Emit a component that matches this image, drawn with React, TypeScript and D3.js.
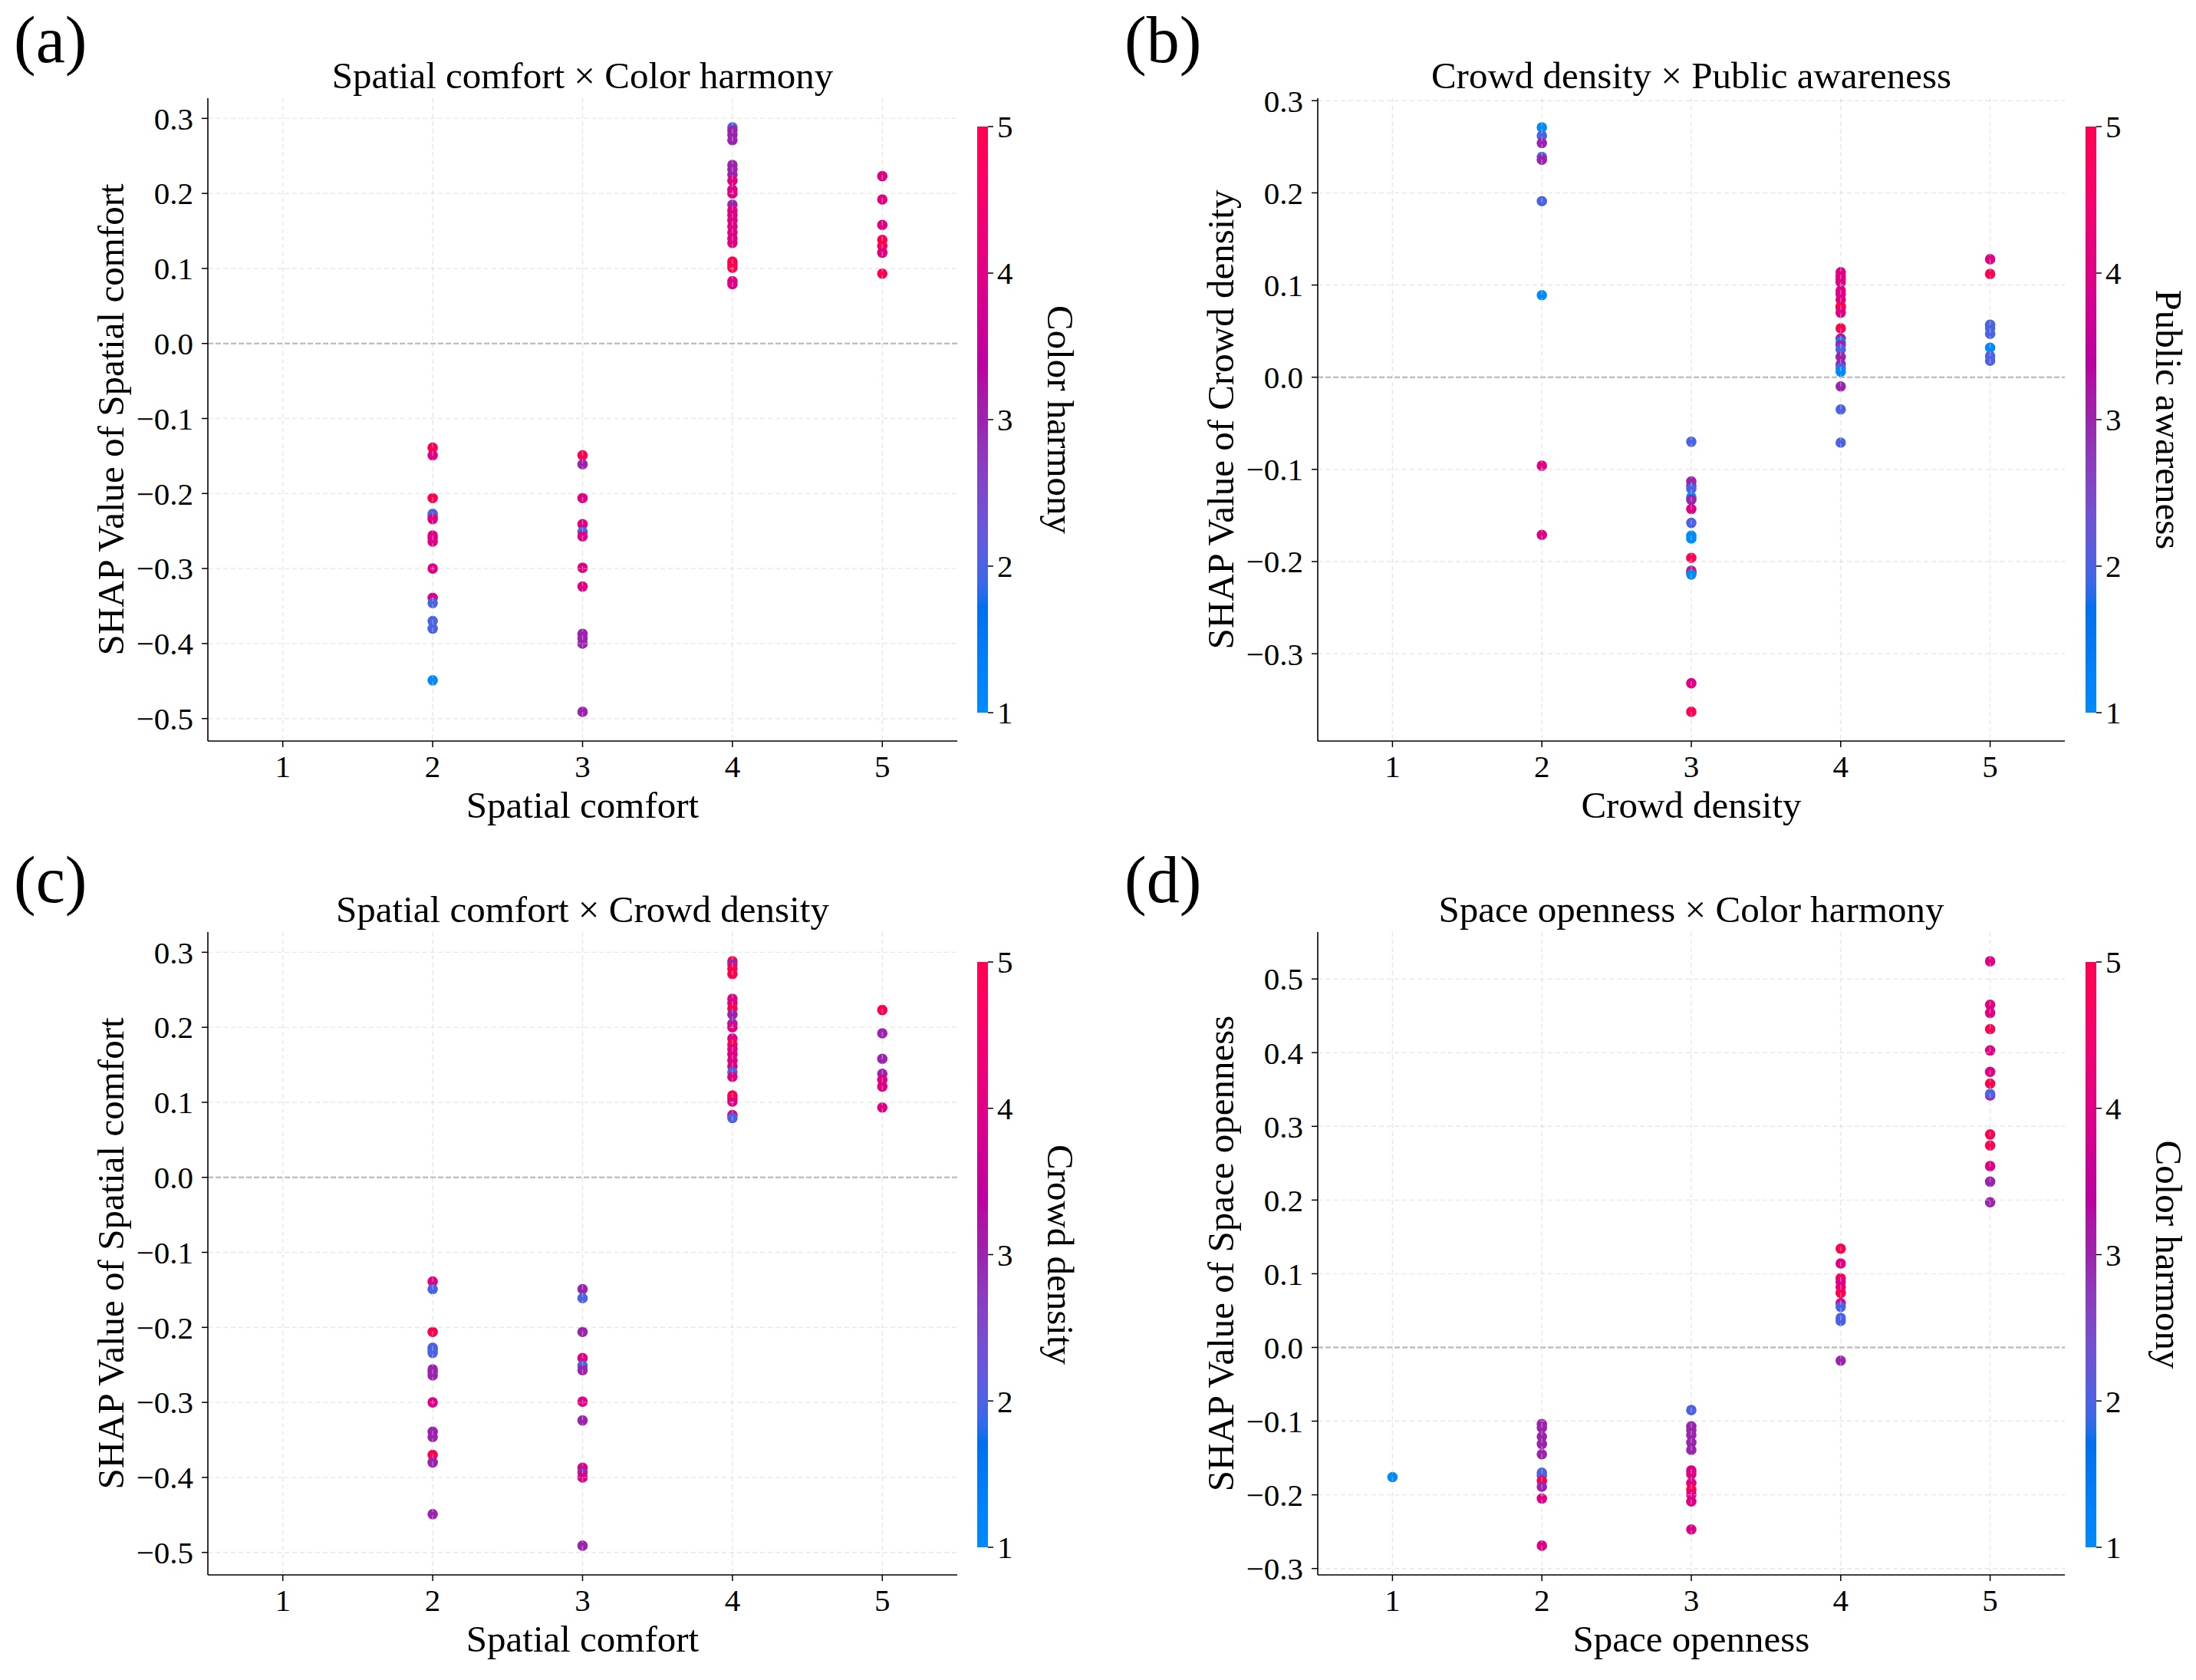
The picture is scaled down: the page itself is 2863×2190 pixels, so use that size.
import React from 'react';
import * as d3 from 'd3';

// ---------------- DATA ----------------
const xTickValues = [1, 2, 3, 4, 5];
const cbarTickValues = [1, 2, 3, 4, 5];

// Panels (a) and (c): SHAP value of Spatial comfort
const spatialComfortX = [
  2, 2, 2, 2, 2, 2, 2, 2, 2, 2, 2, 2, 2, 2, 2,
  3, 3, 3, 3, 3, 3, 3, 3, 3, 3, 3, 3,
  4, 4, 4, 4, 4, 4, 4, 4, 4, 4, 4, 4, 4, 4, 4, 4, 4, 4, 4, 4, 4, 4, 4,
  5, 5, 5, 5, 5, 5, 5,
];
const spatialComfortShap = [
  -0.139, -0.149, -0.206, -0.227, -0.23, -0.234, -0.256, -0.259, -0.264, -0.3, -0.339, -0.346, -0.37, -0.38, -0.449,
  -0.149, -0.161, -0.206, -0.241, -0.251, -0.257, -0.299, -0.324, -0.387, -0.393, -0.4, -0.491,
  0.288, 0.284, 0.278, 0.271, 0.238, 0.232, 0.225, 0.217, 0.205, 0.2, 0.185, 0.177, 0.171, 0.164, 0.156, 0.148, 0.14, 0.134, 0.109, 0.105, 0.101, 0.083, 0.079,
  0.223, 0.192, 0.158, 0.138, 0.13, 0.121, 0.093,
];
const colorHarmonyForSpatial = [
  5, 4, 5, 2, 2, 4, 4, 4, 4, 4, 4, 2, 2, 2, 1,
  5, 3, 4, 4, 2, 4, 4, 4, 3, 3, 3, 3,
  2, 3, 3, 3, 3, 3, 3, 4, 4, 4, 3, 4, 4, 4, 4, 4, 4, 4, 5, 5, 5, 4, 4,
  4, 4, 4, 5, 5, 4, 5,
];
const crowdDensityForSpatial = [
  4, 2, 5, 2, 2, 2, 3, 3, 3, 4, 3, 3, 5, 3, 3,
  3, 2, 3, 4, 2, 3, 4, 3, 4, 3, 4, 3,
  5, 3, 5, 5, 4, 4, 5, 3, 3, 4, 4, 5, 4, 4, 4, 4, 2, 4, 5, 5, 4, 4, 2,
  5, 3, 3, 3, 4, 4, 4,
];

// Panel (b): SHAP value of Crowd density
const crowdDensityX = [
  2, 2, 2, 2, 2, 2, 2, 2, 2,
  3, 3, 3, 3, 3, 3, 3, 3, 3, 3, 3, 3, 3, 3, 3, 3,
  4, 4, 4, 4, 4, 4, 4, 4, 4, 4, 4, 4, 4, 4, 4, 4, 4, 4, 4, 4, 4, 4,
  5, 5, 5, 5, 5, 5, 5, 5,
];
const crowdDensityShap = [
  0.271, 0.262, 0.254, 0.239, 0.236, 0.191, 0.089, -0.096, -0.171,
  -0.07, -0.113, -0.118, -0.121, -0.13, -0.133, -0.143, -0.158, -0.172, -0.175, -0.196, -0.21, -0.212, -0.214, -0.332, -0.363,
  0.114, 0.11, 0.106, 0.103, 0.094, 0.09, 0.084, 0.077, 0.075, 0.07, 0.053, 0.042, 0.038, 0.035, 0.03, 0.022, 0.014, 0.01, 0.006, -0.01, -0.035, -0.071,
  0.128, 0.112, 0.057, 0.053, 0.047, 0.032, 0.023, 0.018,
];
const publicAwarenessForCrowd = [
  1, 2, 3, 2, 3, 2, 1, 4, 4,
  2, 3, 3, 2, 1, 3, 4, 2, 1, 1, 5, 3, 5, 1, 4, 5,
  4, 4, 4, 4, 4, 4, 4, 5, 5, 4, 5, 3, 1, 3, 2, 3, 3, 2, 1, 3, 2, 2,
  4, 5, 2, 2, 2, 1, 2, 2,
];

// Panel (d): SHAP value of Space openness
const spaceOpennessX = [
  1,
  2, 2, 2, 2, 2, 2, 2, 2, 2, 2, 2,
  3, 3, 3, 3, 3, 3, 3, 3, 3, 3, 3, 3, 3,
  4, 4, 4, 4, 4, 4, 4, 4, 4, 4, 4,
  5, 5, 5, 5, 5, 5, 5, 5, 5, 5, 5, 5, 5, 5,
];
const spaceOpennessShap = [
  -0.176,
  -0.104, -0.109, -0.121, -0.131, -0.145, -0.17, -0.174, -0.181, -0.189, -0.205, -0.269,
  -0.085, -0.107, -0.112, -0.119, -0.129, -0.139, -0.167, -0.172, -0.184, -0.193, -0.2, -0.209, -0.247,
  0.134, 0.114, 0.094, 0.089, 0.082, 0.074, 0.06, 0.055, 0.04, 0.036, -0.018,
  0.524, 0.465, 0.454, 0.432, 0.403, 0.374, 0.358, 0.342, 0.344, 0.289, 0.274, 0.246, 0.225, 0.197,
];
const colorHarmonyForOpenness = [
  1,
  3, 3, 3, 3, 3, 2, 2, 5, 3, 4, 4,
  2, 3, 3, 3, 3, 3, 4, 4, 4, 5, 4, 4, 4,
  5, 4, 5, 4, 4, 5, 4, 2, 2, 2, 3,
  4, 4, 4, 5, 4, 4, 5, 4, 2, 5, 5, 4, 3, 3,
];

const yTicksSpatial = [-0.5, -0.4, -0.3, -0.2, -0.1, 0.0, 0.1, 0.2, 0.3];
const yTicksCrowd = [-0.3, -0.2, -0.1, 0.0, 0.1, 0.2, 0.3];
const yTicksOpenness = [-0.3, -0.2, -0.1, 0.0, 0.1, 0.2, 0.3, 0.4, 0.5];

// ---------------- STYLE ----------------
const FONT = '"Liberation Serif", "Times New Roman", Times, serif';

// LCH (CIE, D65) -> sRGB, clipped
function lch2rgb(L: number, C: number, hRad: number): [number, number, number] {
  const a = C * Math.cos(hRad);
  const b = C * Math.sin(hRad);
  let y = (L + 16) / 116;
  let x = a / 500 + y;
  let z = y - b / 200;
  if (z < 0) z = 0;
  const f = (v: number) => (v > 0.2068966 ? v * v * v : (v - 16 / 116) / 7.787);
  const X = f(x) * 0.95047;
  const Y = f(y) * 1.0;
  const Z = f(z) * 1.08883;
  const lin = [
    3.24048134 * X - 1.53715152 * Y - 0.49853633 * Z,
    -0.96925495 * X + 1.87599 * Y + 0.04155593 * Z,
    0.05564664 * X - 0.20404134 * Y + 1.05731107 * Z,
  ];
  const g = lin.map((v) => {
    const s = v > 0.0031308 ? 1.055 * Math.pow(v, 1 / 2.4) - 0.055 : 12.92 * v;
    return Math.max(0, Math.min(1, s));
  });
  return [g[0], g[1], g[2]];
}

// shap "red_blue" colormap samples
const NSTEPS = 100;
const cmapSamples: [number, number, number][] = (() => {
  const out: [number, number, number][] = [];
  const half = NSTEPS / 2;
  for (let i = 0; i < NSTEPS; i++) {
    const t = i / (NSTEPS - 1);
    const l = i < half ? 54 + (40 - 54) * (i / (half - 1)) : 40 + (54 - 40) * ((i - half) / (half - 1));
    const c = 70 + (90 - 70) * t;
    const h = 4.6588 + (0.35470565 + 2 * Math.PI - 4.6588) * t;
    out.push(lch2rgb(l, c, h));
  }
  return out;
})();

function shapColor(v: number): string {
  const t = Math.max(0, Math.min(1, (v - 1) / 4));
  const pos = t * (NSTEPS - 1);
  const i0 = Math.min(NSTEPS - 2, Math.floor(pos));
  const f = pos - i0;
  const a = cmapSamples[i0];
  const b = cmapSamples[i0 + 1];
  const r = Math.round(255 * (a[0] + (b[0] - a[0]) * f));
  const g = Math.round(255 * (a[1] + (b[1] - a[1]) * f));
  const bl = Math.round(255 * (a[2] + (b[2] - a[2]) * f));
  return `rgb(${r},${g},${bl})`;
}

const fmt = (v: number) => d3.format('.1f')(v).replace('-', '\u2212');

interface PanelProps {
  id: string;
  letter: string;
  letterX: number;
  letterY: number;
  left: number;
  right: number;
  top: number;
  bottom: number;
  cbarX: number;
  cbarTop: number;
  cbarBottom: number;
  title: string;
  xLabel: string;
  yLabel: string;
  cLabel: string;
  xs: number[];
  ys: number[];
  cs: number[];
  yTicks: number[];
}

function Panel(p: PanelProps) {
  const [ymin, ymax] = d3.extent(p.ys) as [number, number];
  const pad = (ymax - ymin) * 0.05;
  const x = d3.scaleLinear().domain([0.5, 5.5]).range([p.left, p.right]);
  const y = d3.scaleLinear().domain([ymin - pad, ymax + pad]).range([p.bottom, p.top]);
  const cy = d3.scaleLinear().domain([1, 5]).range([p.cbarBottom, p.cbarTop]);
  const cbarW = 14;
  const gradId = `grad-${p.id}`;
  const stops = d3.range(0, 1.0001, 0.01);
  const pts = p.xs.map((xv, i) => ({ x: xv, y: p.ys[i], c: p.cs[i] }));
  const midY = (p.top + p.bottom) / 2;
  const cMid = (p.cbarTop + p.cbarBottom) / 2;

  return (
    <g>
      <defs>
        <linearGradient id={gradId} x1="0" y1="1" x2="0" y2="0">
          {stops.map((s) => (
            <stop key={s} offset={s} stopColor={shapColor(1 + 4 * s)} />
          ))}
        </linearGradient>
      </defs>
      <text x={p.letterX} y={p.letterY} fontFamily={FONT} fontSize={86} fill="#000">
        {p.letter}
      </text>
      <text x={(p.left + p.right) / 2} y={p.top - 13} textAnchor="middle" fontFamily={FONT} fontSize={49}>
        {p.title}
      </text>
      {/* zero line */}
      <line x1={p.left} x2={p.right} y1={y(0)} y2={y(0)} stroke="#a8a8a8" strokeWidth={2.2} strokeDasharray="7 3" />
      {/* points */}
      {pts.map((d, i) => (
        <circle key={i} cx={x(d.x)} cy={y(d.y)} r={6.8} fill={shapColor(d.c)} />
      ))}
      {/* grid on top, translucent */}
      {xTickValues.map((v) => (
        <line key={`gx${v}`} x1={x(v)} x2={x(v)} y1={p.top} y2={p.bottom} stroke="#cfcfcf" strokeOpacity={0.5} strokeWidth={1.4} strokeDasharray="6 4" />
      ))}
      {p.yTicks.map((v) => (
        <line key={`gy${v}`} x1={p.left} x2={p.right} y1={y(v)} y2={y(v)} stroke="#cfcfcf" strokeOpacity={0.5} strokeWidth={1.4} strokeDasharray="6 4" />
      ))}
      {/* spines */}
      <line x1={p.left} x2={p.left} y1={p.top} y2={p.bottom} stroke="#000" strokeWidth={1.6} />
      <line x1={p.left} x2={p.right} y1={p.bottom} y2={p.bottom} stroke="#000" strokeWidth={1.6} />
      {/* y ticks */}
      {p.yTicks.map((v) => (
        <g key={`yt${v}`}>
          <line x1={p.left - 8} x2={p.left} y1={y(v)} y2={y(v)} stroke="#000" strokeWidth={1.5} />
          <text x={p.left - 19} y={y(v)} dy="0.35em" textAnchor="end" fontFamily={FONT} fontSize={41}>
            {fmt(v)}
          </text>
        </g>
      ))}
      {/* x ticks */}
      {xTickValues.map((v) => (
        <g key={`xt${v}`}>
          <line x1={x(v)} x2={x(v)} y1={p.bottom} y2={p.bottom + 8} stroke="#000" strokeWidth={1.5} />
          <text x={x(v)} y={p.bottom + 47} textAnchor="middle" fontFamily={FONT} fontSize={41}>
            {v}
          </text>
        </g>
      ))}
      <text x={(p.left + p.right) / 2} y={p.bottom + 100} textAnchor="middle" fontFamily={FONT} fontSize={49}>
        {p.xLabel}
      </text>
      <text
        transform={`translate(${p.left - 110},${midY}) rotate(-90)`}
        textAnchor="middle"
        fontFamily={FONT}
        fontSize={49}
      >
        {p.yLabel}
      </text>
      {/* colorbar */}
      <rect x={p.cbarX} y={p.cbarTop} width={cbarW} height={p.cbarBottom - p.cbarTop} fill={`url(#${gradId})`} />
      {cbarTickValues.map((v) => (
        <g key={`ct${v}`}>
          <line x1={p.cbarX + cbarW} x2={p.cbarX + cbarW + 7} y1={cy(v)} y2={cy(v)} stroke="#000" strokeWidth={1.5} />
          <text x={p.cbarX + cbarW + 12} y={cy(v)} dy="0.35em" fontFamily={FONT} fontSize={41}>
            {v}
          </text>
        </g>
      ))}
      <text
        transform={`translate(${p.cbarX + cbarW + 78},${cMid}) rotate(90)`}
        textAnchor="middle"
        fontFamily={FONT}
        fontSize={49}
      >
        {p.cLabel}
      </text>
    </g>
  );
}

export default function App() {
  return (
    <div style={{ position: 'absolute', left: 0, top: 0, background: '#fff' }}>
      <svg width={2863} height={2190} viewBox="0 0 2863 2190" style={{ display: 'block', background: '#fff' }}>
        <Panel
          id="a" letter="(a)" letterX={18} letterY={81}
          left={271} right={1248} top={128} bottom={966}
          cbarX={1274} cbarTop={165} cbarBottom={929}
          title="Spatial comfort × Color harmony"
          xLabel="Spatial comfort" yLabel="SHAP Value of Spatial comfort" cLabel="Color harmony"
          xs={spatialComfortX} ys={spatialComfortShap} cs={colorHarmonyForSpatial} yTicks={yTicksSpatial}
        />
        <Panel
          id="b" letter="(b)" letterX={1466} letterY={81}
          left={1718} right={2692} top={128} bottom={966}
          cbarX={2719} cbarTop={165} cbarBottom={929}
          title="Crowd density × Public awareness"
          xLabel="Crowd density" yLabel="SHAP Value of Crowd density" cLabel="Public awareness"
          xs={crowdDensityX} ys={crowdDensityShap} cs={publicAwarenessForCrowd} yTicks={yTicksCrowd}
        />
        <Panel
          id="c" letter="(c)" letterX={18} letterY={1176}
          left={271} right={1248} top={1215} bottom={2053}
          cbarX={1274} cbarTop={1254} cbarBottom={2017}
          title="Spatial comfort × Crowd density"
          xLabel="Spatial comfort" yLabel="SHAP Value of Spatial comfort" cLabel="Crowd density"
          xs={spatialComfortX} ys={spatialComfortShap} cs={crowdDensityForSpatial} yTicks={yTicksSpatial}
        />
        <Panel
          id="d" letter="(d)" letterX={1466} letterY={1176}
          left={1718} right={2692} top={1215} bottom={2053}
          cbarX={2719} cbarTop={1254} cbarBottom={2017}
          title="Space openness × Color harmony"
          xLabel="Space openness" yLabel="SHAP Value of Space openness" cLabel="Color harmony"
          xs={spaceOpennessX} ys={spaceOpennessShap} cs={colorHarmonyForOpenness} yTicks={yTicksOpenness}
        />
      </svg>
    </div>
  );
}
